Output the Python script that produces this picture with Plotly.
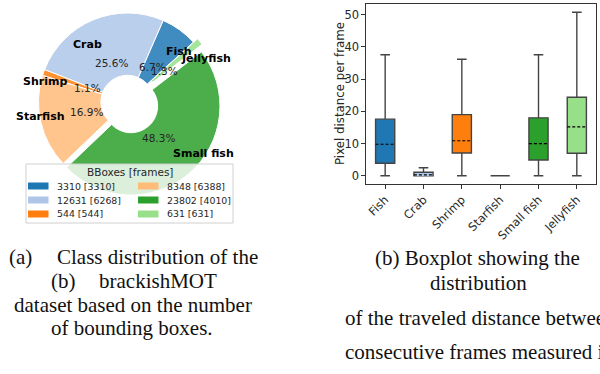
import math
import plotly.graph_objects as go

# ---------------- data ----------------
classes = ["Fish", "Crab", "Shrimp", "Starfish", "Small fish", "Jellyfish"]
bboxes = [3310, 12631, 544, 8348, 23802, 631]
frames = [3310, 6268, 544, 6388, 4010, 631]
legend_title = "BBoxes [frames]"

# boxplot statistics (pixel distance per frame)
box_q1 = [3.9, 0.0, 7.1, 0.0, 4.9, 7.0]
box_median = [9.8, 0.3, 10.9, 0.0, 10.0, 15.2]
box_q3 = [17.6, 1.1, 19.0, 0.0, 18.0, 24.4]
box_low = [0.0, 0.0, 0.0, 0.0, 0.0, 0.0]
box_high = [37.6, 2.5, 36.2, 0.0, 37.6, 50.8]
y_ticks = [0, 10, 20, 30, 40, 50]

# ---------------- style ----------------
colors = ["#1f77b4", "#aec7e8", "#ff7f0e", "#ffbb78", "#2ca02c", "#98df8a"]
explode = [0, 0, 0, 0, 0.06, 0.06]
W, H = 600, 374
FONT = "DejaVu Sans"
SERIF = "Liberation Serif"


def px(x):
    return x / W


def py(y):
    return 1 - y / H


def rgba(hexc, a):
    h = hexc.lstrip("#")
    r, g, b = int(h[0:2], 16), int(h[2:4], 16), int(h[4:6], 16)
    return f"rgba({r},{g},{b},{a})"


fig = go.Figure()

# ---------------- pie ----------------
cx, cy, R = 127.5, 102.0, 89.0
start_angle = 42.2  # degrees, counter-clockwise from 3 o'clock
total = sum(bboxes)
max_pull = max(explode)
half = R * (1 + max_pull)
rotation = 90 - start_angle - 360 * bboxes[0] / total

fig.add_trace(go.Pie(
    values=bboxes, labels=classes, sort=False, direction="counterclockwise",
    rotation=rotation, hole=0.3, pull=explode,
    marker=dict(colors=[rgba(c, 0.85) for c in colors], line=dict(color="white", width=1)),
    textinfo="none", hoverinfo="skip", showlegend=False,
    domain=dict(x=[px(cx - half), px(cx + half)], y=[py(cy + half), py(cy - half)]),
))

annotations = []
pct_r, lab_r = 42.5, 62.0
cum = 0
for name, v, ex in zip(classes, bboxes, explode):
    mid = math.radians(start_angle + 360 * (cum + v / 2) / total)
    cum += v
    off = ex * R
    ox = cx + off * math.cos(mid)
    oy = cy - off * math.sin(mid)
    pct = 100 * v / total
    annotations.append(dict(
        x=px(ox + pct_r * math.cos(mid)), y=py(oy - pct_r * math.sin(mid)),
        xref="paper", yref="paper", text=f"{pct:.1f}%", showarrow=False,
        xanchor="center", yanchor="middle",
        font=dict(family=FONT, size=10.5, color="#262626")))
    c = math.cos(mid)
    annotations.append(dict(
        x=px(ox + lab_r * c), y=py(oy - lab_r * math.sin(mid)),
        xref="paper", yref="paper", text=f"<b>{name}</b>", showarrow=False,
        xanchor="left" if c > 0 else "right", yanchor="middle",
        font=dict(family=FONT, size=11, color="black")))

# ---------------- manual legend ----------------
shapes = []
lx0, lx1, ly0, ly1 = 26, 233, 164, 223
shapes.append(dict(type="rect", xref="paper", yref="paper", layer="above",
                   x0=px(lx0), x1=px(lx1), y0=py(ly1), y1=py(ly0),
                   fillcolor="rgba(255,255,255,0.8)", line=dict(color="#d0d0d0", width=1)))
annotations.append(dict(x=px((lx0 + lx1) / 2), y=py(172.5), xref="paper", yref="paper",
                        text=legend_title, showarrow=False, xanchor="center", yanchor="middle",
                        font=dict(family=FONT, size=10.5, color="#262626")))
col_patch_x = [28, 138]
row_y = [186, 200, 214]
for i, (b, f, col) in enumerate(zip(bboxes, frames, colors)):
    c, r = divmod(i, 3)
    x0 = col_patch_x[c]
    yc = row_y[r]
    shapes.append(dict(type="rect", xref="paper", yref="paper", layer="above",
                       x0=px(x0), x1=px(x0 + 20.5), y0=py(yc + 3.5), y1=py(yc - 3.5),
                       fillcolor=col, line=dict(width=0)))
    annotations.append(dict(x=px(x0 + 27), y=py(yc), xref="paper", yref="paper",
                            text=f"{b} [{f}]", showarrow=False, xanchor="left", yanchor="middle",
                            font=dict(family=FONT, size=9.4, color="#262626")))

# ---------------- boxplot ----------------
positions = list(range(1, len(classes) + 1))
bw = 0.5
for p, name, col, a, m, b3, lo, hi in zip(positions, classes, colors, box_q1, box_median,
                                           box_q3, box_low, box_high):
    fig.add_trace(go.Box(
        x=[p], q1=[a], median=[m], q3=[b3], lowerfence=[lo], upperfence=[hi],
        name=name, width=bw, whiskerwidth=0.5, fillcolor=col,
        line=dict(color="#444444", width=1.4), boxpoints=False,
        hoverinfo="skip", showlegend=False, xaxis="x", yaxis="y"))
for p, col, m in zip(positions, colors, box_median):
    if m <= 0:
        continue
    fig.add_trace(go.Scatter(x=[p - bw / 2 + 0.02, p + bw / 2 - 0.02], y=[m, m], mode="lines",
                             line=dict(color=col, width=2.4), hoverinfo="skip", showlegend=False))
    fig.add_trace(go.Scatter(x=[p - bw / 2, p + bw / 2], y=[m, m], mode="lines",
                             line=dict(color="black", width=1.1, dash="3px,2px"),
                             hoverinfo="skip", showlegend=False))

fig.update_xaxes(domain=[px(366), px(596)], range=[0.5, 6.5], tickvals=positions,
                 ticktext=classes, tickangle=-45, showgrid=False, zeroline=False,
                 showline=True, mirror=True, linecolor="#333333", linewidth=1.2,
                 ticks="outside", ticklen=3.5, tickcolor="#333333",
                 tickfont=dict(family=FONT, size=11.5, color="#262626"))
fig.update_yaxes(domain=[py(184), py(4)], range=[-2.54, 53.34], tickvals=y_ticks,
                 showgrid=False, zeroline=False, showline=True, mirror=True,
                 linecolor="#333333", linewidth=1.2, ticks="outside", ticklen=3.5,
                 tickcolor="#333333", tickfont=dict(family=FONT, size=11.5, color="#262626"))
annotations.append(dict(x=px(340), y=py(94), xref="paper", yref="paper",
                        text="Pixel distance per frame", showarrow=False, textangle=-90,
                        xanchor="center", yanchor="middle",
                        font=dict(family=FONT, size=11.8, color="#262626")))

# ---------------- captions ----------------
cap = dict(family=SERIF, size=21, color="#111111")
captions = [
    ("(a)", 7, 257, "left"), ("Class distribution of the", 55, 257, "left"),
    ("(b)", 49, 281, "left"), ("brackishMOT", 97, 281, "left"),
    ("dataset based on the number", 132.5, 305, "center"),
    ("of bounding boxes.", 132, 328, "center"),
    ("(b) Boxplot showing the", 477.5, 258, "center"),
    ("distribution", 478, 283, "center"),
    ("of the traveled distance between", 343, 318, "left"),
    ("consecutive frames measured in", 343, 352, "left"),
]
for t, x, y, anc in captions:
    annotations.append(dict(x=px(x), y=py(y), xref="paper", yref="paper", text=t,
                            showarrow=False, xanchor=anc, yanchor="middle", font=cap))

fig.update_layout(width=W, height=H, margin=dict(l=0, r=0, t=0, b=0),
                  paper_bgcolor="white", plot_bgcolor="white",
                  shapes=shapes, annotations=annotations, showlegend=False)
fig.write_html("out.html", config={"displayModeBar": False},
               post_script="document.body.style.margin='0';document.body.style.overflow='hidden';")
